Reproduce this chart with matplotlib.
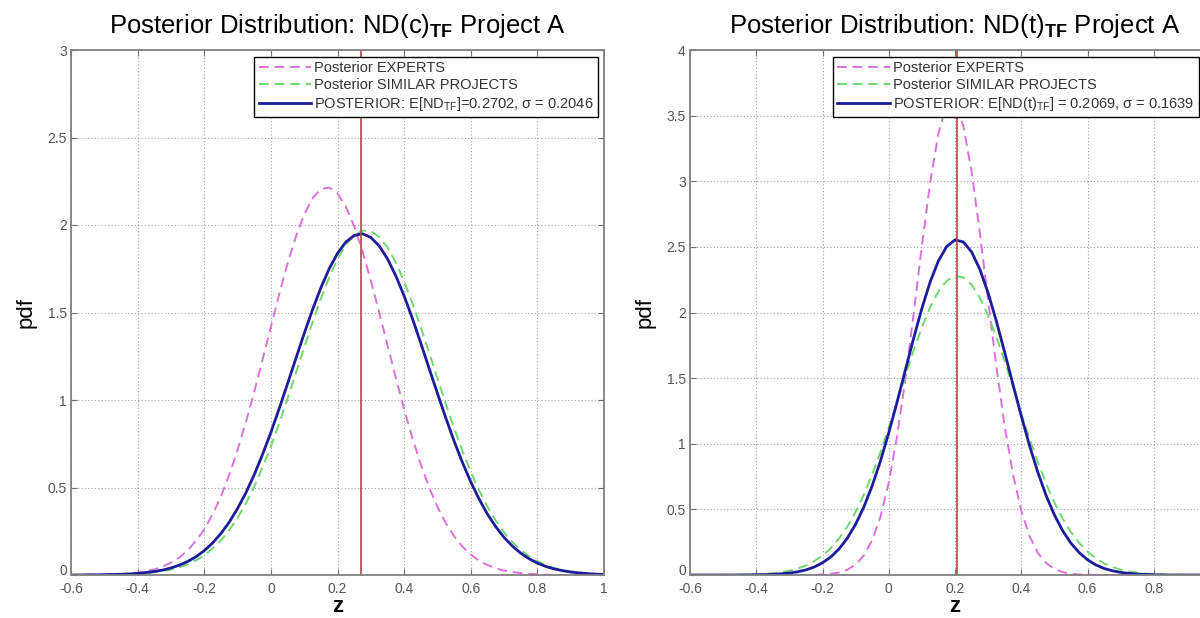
import numpy as np
import matplotlib.pyplot as plt
import matplotlib.transforms as mtransforms

plt.rcParams['font.family'] = ['Liberation Sans', 'DejaVu Sans']
plt.rcParams['mathtext.fontset'] = 'custom'
plt.rcParams['mathtext.rm'] = 'Liberation Sans'
plt.rcParams['mathtext.bf'] = 'Liberation Sans:bold'
plt.rcParams['mathtext.it'] = 'Liberation Sans:italic'

############### DATA ###############
# pdf values sampled every 0.025 on z in [-0.6, 1.0]
z = np.linspace(-0.6, 1.0, 65)

# left panel: ND(c)
c_experts = [0, 0, 0.001, 0.001, 0.002, 0.003,
             0.005, 0.009, 0.014, 0.021, 0.032, 0.048, 0.070, 0.100, 0.141, 0.194,
             0.261, 0.346, 0.449, 0.572, 0.713, 0.873, 1.047, 1.231,
             1.419, 1.605, 1.779, 1.933, 2.060, 2.152, 2.205, 2.214,
             2.181, 2.105, 1.993, 1.850, 1.683, 1.502, 1.314, 1.127,
             0.948, 0.781, 0.632, 0.501, 0.389, 0.297, 0.222, 0.162,
             0.117, 0.082, 0.057, 0.038, 0.025, 0.017, 0.011, 0.007,
             0.004, 0.002, 0.001, 0, 0, 0, 0, 0, 0]
c_similar = [0, 0, 0, 0.001, 0.001, 0.002,
             0.003, 0.004, 0.007, 0.010, 0.015, 0.022, 0.031, 0.044, 0.061, 0.084,
             0.113, 0.151, 0.198, 0.256, 0.326, 0.409, 0.505, 0.614,
             0.735, 0.867, 1.008, 1.154, 1.301, 1.444, 1.579, 1.701,
             1.805, 1.886, 1.941, 1.968, 1.965, 1.932, 1.872, 1.786,
             1.678, 1.553, 1.416, 1.271, 1.124, 0.979, 0.840, 0.710,
             0.591, 0.485, 0.391, 0.311, 0.244, 0.188, 0.143, 0.107,
             0.079, 0.057, 0.041, 0.029, 0.020, 0.014, 0.009, 0.006, 0.004]
c_post = [0, 0, 0.001, 0.001, 0.002, 0.003,
          0.004, 0.006, 0.009, 0.014, 0.020, 0.028, 0.040, 0.056, 0.077, 0.104,
          0.139, 0.183, 0.237, 0.302, 0.380, 0.470, 0.573, 0.689,
          0.815, 0.951, 1.093, 1.237, 1.380, 1.516, 1.641, 1.750,
          1.838, 1.903, 1.940, 1.950, 1.929, 1.881, 1.807, 1.710,
          1.595, 1.465, 1.325, 1.181, 1.038, 0.898, 0.765, 0.643,
          0.532, 0.434, 0.348, 0.276, 0.215, 0.165, 0.125, 0.093,
          0.068, 0.049, 0.035, 0.025, 0.017, 0.012, 0.008, 0.005, 0.003]
c_mean = 0.2702
c_sigma = 0.2046

# right panel: ND(t)
t_experts = [0, 0, 0, 0, 0, 0, 0, 0, 0, 0, 0, 0, 0, 0,
             0.001, 0.001, 0.004, 0.009, 0.019, 0.040, 0.080, 0.150, 0.266, 0.445,
             0.704, 1.053, 1.488, 1.987, 2.507, 2.989, 3.367, 3.583,
             3.604, 3.424, 3.075, 2.609, 2.091, 1.584, 1.134, 0.767,
             0.490, 0.296, 0.169, 0.091, 0.046, 0.022, 0.010, 0.004,
             0.002, 0.001, 0, 0, 0, 0, 0, 0, 0, 0, 0, 0, 0, 0, 0, 0, 0]
t_similar = [0, 0, 0, 0, 0.001, 0.001,
             0.002, 0.003, 0.005, 0.008, 0.014, 0.021, 0.033, 0.049, 0.072, 0.105,
             0.148, 0.205, 0.278, 0.369, 0.481, 0.613, 0.766, 0.937,
             1.124, 1.319, 1.518, 1.710, 1.887, 2.040, 2.161, 2.242,
             2.278, 2.268, 2.212, 2.112, 1.977, 1.812, 1.627, 1.431,
             1.232, 1.040, 0.860, 0.696, 0.552, 0.429, 0.327, 0.244,
             0.178, 0.127, 0.089, 0.061, 0.041, 0.027, 0.018, 0.011,
             0.007, 0.004, 0.002, 0.001, 0.001, 0, 0, 0, 0]
t_post = [0, 0, 0, 0, 0, 0, 0, 0.001,
          0.002, 0.003, 0.005, 0.009, 0.015, 0.024, 0.039, 0.061,
          0.093, 0.137, 0.199, 0.281, 0.387, 0.519, 0.680, 0.869,
          1.083, 1.316, 1.560, 1.802, 2.031, 2.233, 2.394, 2.503,
          2.553, 2.538, 2.462, 2.329, 2.149, 1.933, 1.696, 1.452,
          1.212, 0.986, 0.783, 0.606, 0.458, 0.337, 0.242, 0.170,
          0.116, 0.077, 0.050, 0.032, 0.020, 0.012, 0.007, 0.004,
          0.002, 0.001, 0, 0, 0, 0, 0, 0, 0]
t_mean = 0.2069
t_sigma = 0.1639

c_xticks = ['-0.6', '-0.4', '-0.2', '0', '0.2', '0.4', '0.6', '0.8', '1']
t_xticks = ['-0.6', '-0.4', '-0.2', '0', '0.2', '0.4', '0.6', '0.8']
c_yticks = ['0', '0.5', '1', '1.5', '2', '2.5', '3']
t_yticks = ['0', '0.5', '1', '1.5', '2', '2.5', '3', '3.5', '4']

##################### PLOT #######################
fig = plt.figure(figsize=(12, 6.18), dpi=100)
ax1 = fig.add_axes([71/1200, 43/618, 533/1200, 525/618])
ax2 = fig.add_axes([690/1200, 43/618, 530/1200, 525/618])

dash = (0, (5, 3))

def draw(ax, experts, similar, post, mean, post_label, xlabels, ylabels, title):
    ax.plot(z, experts, color='#dd70dd', ls=dash, lw=1.4, label='Posterior EXPERTS')
    ax.plot(z, similar, color='#70d870', ls=dash, lw=1.4, label='Posterior SIMILAR PROJECTS')
    ax.plot(z, post, color='#1c1c9c', lw=2.0, label=post_label)
    ax.axvline(mean, color='#b04848', lw=1.2)
    ax.set_xlim(-0.6, 1.0)
    ax.set_ylim(0, float(ylabels[-1]))
    ax.set_xticks([float(s) for s in xlabels])
    ax.set_xticklabels(xlabels)
    ax.set_yticks([float(s) for s in ylabels])
    ax.set_yticklabels(ylabels)
    ax.grid(True, color='#a0a0a0', ls=(0, (1, 2)), lw=0.8)
    ax.tick_params(direction='in', top=True, right=True, length=4,
                   labelsize=10, labelcolor='#555555', color='#707070', pad=3)
    ax.tick_params(axis='x', pad=5)
    # lift the "0" y label a little so it sits above the "-0.6" x label
    lab0 = ax.get_yticklabels()[0]
    lab0.set_transform(lab0.get_transform() +
                       mtransforms.ScaledTranslation(0, 4/72, fig.dpi_scale_trans))
    for s in ax.spines.values():
        s.set_color('#808080')
        s.set_linewidth(1.3)
    ax.set_xlabel('z', fontsize=16, fontweight='bold', labelpad=0)
    ax.set_ylabel('pdf', fontsize=16, labelpad=8)
    ax.set_title(title, fontsize=18.5, pad=12)

draw(ax1, c_experts, c_similar, c_post, c_mean,
     r'POSTERIOR: E[ND$_{\mathrm{TF}}$]=%.4f, σ = %.4f' % (c_mean, c_sigma),
     c_xticks, c_yticks,
     r'Posterior Distribution: ND(c)$_{\mathbf{TF}}$ Project A')
draw(ax2, t_experts, t_similar, t_post, t_mean,
     r'POSTERIOR: E[ND(t)$_{\mathrm{TF}}$] = %.4f, σ = %.4f' % (t_mean, t_sigma),
     t_xticks, t_yticks,
     r'Posterior Distribution: ND(t)$_{\mathbf{TF}}$ Project A')

leg_kw = dict(fontsize=10.5, fancybox=False, framealpha=1, edgecolor='black',
              handlelength=3.6, handletextpad=0.2, labelspacing=0.2,
              borderpad=0.3, borderaxespad=0, labelcolor='#333333')
l1 = ax1.legend(loc='upper right', bbox_to_anchor=(0.989, 0.987), **leg_kw)
l2 = ax2.legend(loc='upper left', bbox_to_anchor=(0.27, 0.987), **leg_kw)
for l in (l1, l2):
    l.get_frame().set_linewidth(1.0)

fig.savefig('out.png', dpi=100)
